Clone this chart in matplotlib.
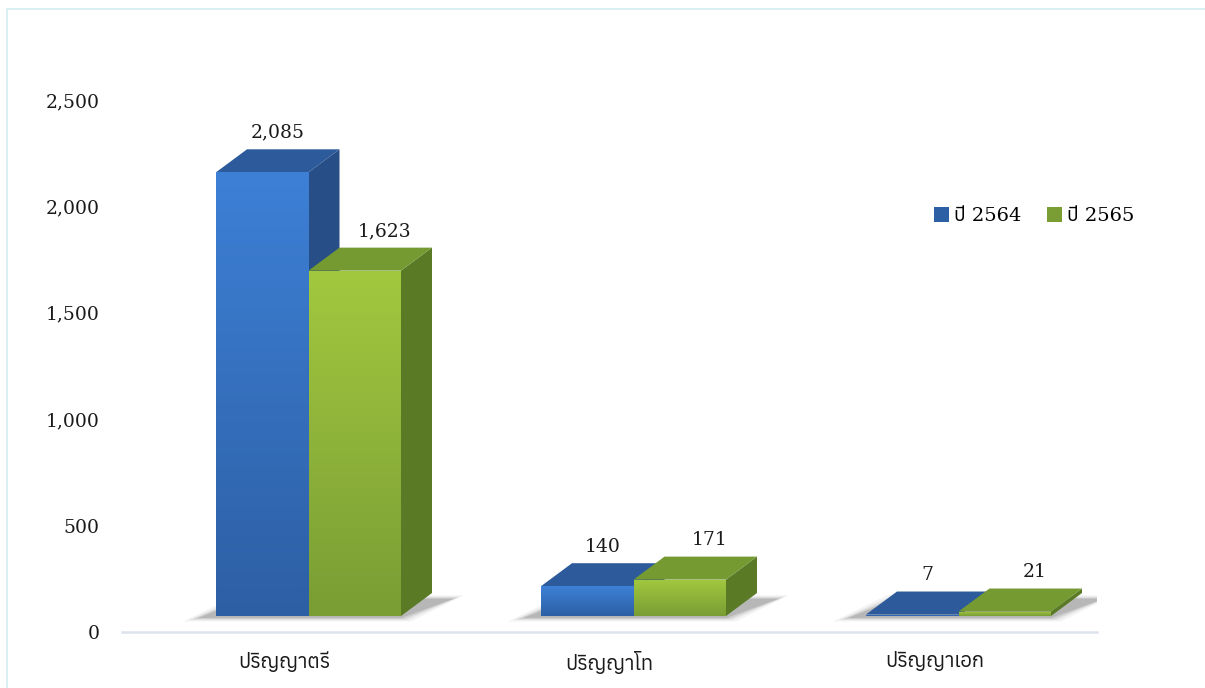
import numpy as np
import matplotlib
matplotlib.use("Agg")
import matplotlib.pyplot as plt
from matplotlib import font_manager
from matplotlib.ft2font import FT2Font
from matplotlib.patches import Polygon, Rectangle
from matplotlib.colors import LinearSegmentedColormap

categories = ["ปริญญาตรี", "ปริญญาโท", "ปริญญาเอก"]
series_names = ["ปี 2564", "ปี 2565"]
values_2564 = [2085, 140, 7]
values_2565 = [1623, 171, 21]
y_ticks = [0, 500, 1000, 1500, 2000, 2500]


def find_thai_fonts():
    # every installed font that has Thai glyphs
    found = []
    for f in font_manager.fontManager.ttflist:
        try:
            ft = FT2Font(f.fname)
            if ft.get_char_index(0x0E1B) and ft.get_char_index(0x0E0D):
                found.append(f.name)
        except Exception:
            continue
    found = sorted(set(found))
    good = [n for n in found if "Looped" not in n and "Serif" not in n]
    if good:
        return good[0]
    return found[0] if found else "DejaVu Sans"


THAI = find_thai_fonts()
NUM_FONT = "DejaVu Serif"

# colours: (front top, front bottom, top face, side face)
styles = [
    ("#3d80d6", "#2d5fa4", "#2c5a9a", "#274e86"),
    ("#a2c83f", "#7a9d34", "#749a31", "#5a7a26"),
]

fig = plt.figure(figsize=(12.05, 6.88), dpi=100)
W, H = 1205, 688
ax = fig.add_axes([122 / W, 1 - 632 / H, (1097 - 122) / W, (632 - 100) / H])
ax.set_xlim(0, 3)
ax.set_ylim(0, 2500)

px_x = 3 / (1097 - 122)      # data units per pixel (x)
px_y = 2500 / (632 - 100)    # data units per pixel (y)
dx = 31 * px_x
dy = 23 * px_y
base = 16 * px_y
bar_w = 92.5 * px_x
first_off = -68.5 * px_x


def grad_poly(verts, c_top, c_bot, z):
    poly = Polygon(verts, closed=True, fc=c_top, ec="none", zorder=z)
    ax.add_patch(poly)
    xs = [v[0] for v in verts]
    ys = [v[1] for v in verts]
    cmap = LinearSegmentedColormap.from_list("g", [c_bot, c_top])
    im = ax.imshow(np.linspace(0, 1, 256).reshape(-1, 1), cmap=cmap,
                   extent=[min(xs), max(xs), min(ys), max(ys)],
                   origin="lower", aspect="auto", zorder=z + 0.1,
                   interpolation="bilinear")
    im.set_clip_path(poly)


def shadow(x0, x1):
    # soft grey shadow on the floor, a few stacked translucent layers
    y0 = base
    for k, a in [(10, 0.06), (6, 0.09), (3, 0.12), (0, 0.16)]:
        ex = k * px_x
        ey = k * px_y * 0.35
        ax.add_patch(Polygon([(x0 - 18 * px_x - ex * 1.5, y0 - 2 * px_y - ey),
                              (x1 + ex, y0 - 2 * px_y - ey),
                              (x1 + dx + 22 * px_x + ex, y0 + dy * 0.75 + ey),
                              (x0 + dx - ex, y0 + dy * 0.75 + ey)],
                             closed=True, fc="#404040", ec="none",
                             alpha=a, zorder=1))


def bar3d(x0, h, st, z):
    x1 = x0 + bar_w
    y0 = base
    y1 = base + h
    # side face
    ax.add_patch(Polygon([(x1, y0), (x1 + dx, y0 + dy), (x1 + dx, y1 + dy), (x1, y1)],
                         closed=True, fc=st[3], ec="none", zorder=z))
    # top face
    ax.add_patch(Polygon([(x0, y1), (x1, y1), (x1 + dx, y1 + dy), (x0 + dx, y1 + dy)],
                         closed=True, fc=st[2], ec="none", zorder=z))
    # front face with gradient
    grad_poly([(x0, y0), (x1, y0), (x1, y1), (x0, y1)], st[0], st[1], z + 0.5)


label_dx = [0.5, 0.95]
for i, cat in enumerate(categories):
    centre = i + 0.5
    g0 = centre + first_off
    shadow(g0, g0 + 2 * bar_w)
    for j, vals in enumerate([values_2564, values_2565]):
        x0 = g0 + j * bar_w
        bar3d(x0, vals[i], styles[j], 3)
        ax.annotate(f"{vals[i]:,}", (x0 + bar_w / 2 + dx * label_dx[j], base + vals[i] + dy),
                    xytext=(0, 12), textcoords="offset points",
                    ha="center", va="center", fontsize=13.5,
                    family=NUM_FONT, color="#1a1a1a", zorder=10)

ax.set_xlim(0, 3)
ax.set_ylim(0, 2500)

ax.set_xticks([i + 0.5 for i in range(len(categories))])
ax.set_xticklabels(categories, family=[THAI, "DejaVu Sans"], fontsize=14.5,
                   color="#1a1a1a")
ax.set_yticks(y_ticks)
ax.set_yticklabels([f"{v:,}" for v in y_ticks], family=NUM_FONT, fontsize=13.5,
                   color="#1a1a1a")
ax.tick_params(axis="both", length=0)
ax.tick_params(axis="y", pad=16)
ax.tick_params(axis="x", pad=14)
for s in ["top", "right", "left"]:
    ax.spines[s].set_visible(False)
ax.spines["bottom"].set_color("#dde2ec")
ax.spines["bottom"].set_linewidth(1.8)
ax.patch.set_alpha(0)

# legend
handles = [Rectangle((0, 0), 1, 1, fc=styles[0][1], ec="none"),
           Rectangle((0, 0), 1, 1, fc=styles[1][1], ec="none")]
fig.legend(handles, series_names, loc="center left",
           bbox_to_anchor=(916 / W, 1 - 216 / H), ncol=2, frameon=False,
           handlelength=0.8, handleheight=0.8, handletextpad=0.25,
           columnspacing=1.3, prop={"family": [NUM_FONT, THAI], "size": 14})

# thin outer frame
fig.add_artist(Rectangle((7 / W, -0.01), 1.0, 1 - 9 / H + 0.01,
                         transform=fig.transFigure, fill=False,
                         ec="#d3ecef", lw=1.2))

fig.savefig("out.png", dpi=100)
